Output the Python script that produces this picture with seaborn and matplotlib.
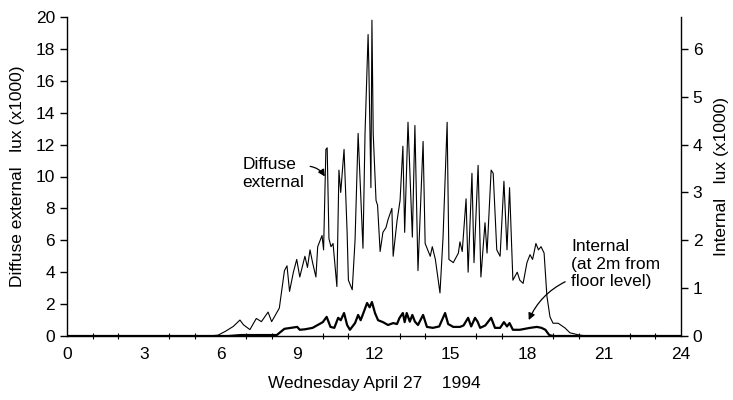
import matplotlib
matplotlib.use("Agg")
import matplotlib.pyplot as plt
import seaborn as sns
import pandas as pd

diffuse_hours = [0.0, 5.5, 5.9, 6.2, 6.5, 6.76, 6.9, 7.15, 7.4, 7.6, 7.86, 8.0, 8.3, 8.5, 8.6, 8.7,
                 8.85, 8.98, 9.1, 9.3, 9.4, 9.5, 9.6, 9.73, 9.8, 9.97, 10.03, 10.12, 10.17, 10.24,
                 10.32, 10.4, 10.55, 10.63, 10.7, 10.83, 10.95, 11.0, 11.15, 11.26, 11.38, 11.57,
                 11.65, 11.77, 11.8, 11.88, 11.92, 11.97, 12.08, 12.14, 12.24, 12.35, 12.47, 12.55,
                 12.7, 12.75, 12.9, 13.02, 13.13, 13.2, 13.33, 13.5, 13.6, 13.72, 13.92, 14.0, 14.1,
                 14.2, 14.28, 14.4, 14.58, 14.7, 14.86, 14.93, 15.1, 15.3, 15.36, 15.45, 15.6, 15.68,
                 15.83, 15.91, 16.07, 16.18, 16.34, 16.42, 16.58, 16.66, 16.8, 16.93, 17.08, 17.2,
                 17.3, 17.43, 17.6, 17.7, 17.83, 17.98, 18.1, 18.2, 18.33, 18.43, 18.53, 18.65,
                 18.76, 18.88, 19.0, 19.2, 19.47, 19.66, 20.05, 20.4, 24.0]
diffuse_values = [0, 0, 0.05, 0.3, 0.6, 1.0, 0.7, 0.4, 1.1, 0.9, 1.5, 0.9, 1.75, 4.1, 4.4, 2.8,
                  4.0, 4.8, 3.7, 5.0, 4.3, 5.4, 4.6, 3.7, 5.6, 6.3, 5.4, 11.7, 11.8, 6.1,
                  5.6, 5.8, 3.1, 10.4, 9.0, 11.7, 6.5, 3.5, 2.9, 6.0, 12.7, 5.5,
                  12.7, 18.9, 16.9, 9.3, 19.8, 12.7, 8.5, 8.2, 5.3, 6.5, 6.8, 7.3,
                  8.0, 5.0, 7.2, 8.5, 11.9, 6.5, 13.4, 6.2, 13.2, 4.1, 12.2, 5.8, 5.4,
                  5.0, 5.6, 4.8, 2.7, 6.2, 13.4, 4.8, 4.6, 5.2, 5.9, 5.3, 8.6, 4.0,
                  10.2, 4.6, 10.7, 3.7, 7.1, 5.2, 10.4, 10.2, 5.4, 5.0, 9.7, 5.4,
                  9.3, 3.5, 4.0, 3.5, 3.3, 4.6, 5.1, 4.8, 5.8, 5.4, 5.6, 5.2,
                  2.5, 1.2, 0.8, 0.8, 0.5, 0.2, 0.05, 0, 0]

internal_hours = [0.0, 6.3, 6.8, 7.4, 8.2, 8.5, 9.0, 9.1, 9.3, 9.6, 9.8, 10.0, 10.15, 10.3, 10.45,
                  10.6, 10.7, 10.83, 10.95, 11.06, 11.26, 11.38, 11.48, 11.6, 11.73, 11.83, 11.92,
                  12.04, 12.16, 12.35, 12.55, 12.75, 12.9, 13.0, 13.13, 13.2, 13.28, 13.4, 13.5,
                  13.6, 13.72, 13.92, 14.07, 14.3, 14.55, 14.78, 14.9, 15.1, 15.36, 15.5, 15.68,
                  15.8, 15.95, 16.05, 16.15, 16.35, 16.58, 16.73, 16.93, 17.08, 17.2, 17.3, 17.43,
                  17.7, 18.1, 18.37, 18.55, 18.7, 18.85, 19.0, 24.0]
internal_values = [0, 0, 0.02, 0.02, 0.02, 0.15, 0.19, 0.13, 0.14, 0.17, 0.23, 0.29, 0.4, 0.19, 0.17,
                   0.38, 0.33, 0.48, 0.23, 0.13, 0.27, 0.44, 0.33, 0.5, 0.69, 0.6, 0.71,
                   0.48, 0.33, 0.29, 0.23, 0.27, 0.25, 0.38, 0.48, 0.29, 0.48, 0.3, 0.44,
                   0.3, 0.23, 0.44, 0.19, 0.17, 0.2, 0.48, 0.25, 0.19, 0.19, 0.22, 0.38,
                   0.2, 0.38, 0.3, 0.17, 0.22, 0.38, 0.17, 0.17, 0.29, 0.2, 0.27, 0.13,
                   0.13, 0.17, 0.19, 0.17, 0.13, 0.02, 0, 0]

x_ticks = [0, 3, 6, 9, 12, 15, 18, 21, 24]
left_ticks = [0, 2, 4, 6, 8, 10, 12, 14, 16, 18, 20]
right_ticks = [0, 1, 2, 3, 4, 5, 6]

sns.set_theme(style="white")
plt.rcParams['font.family'] = ['Liberation Sans', 'DejaVu Sans']
plt.rcParams['text.color'] = 'black'
plt.rcParams['axes.labelcolor'] = 'black'
plt.rcParams['xtick.color'] = 'black'
plt.rcParams['ytick.color'] = 'black'

df_d = pd.DataFrame({"hour": diffuse_hours, "lux": diffuse_values})
df_i = pd.DataFrame({"hour": internal_hours, "lux": internal_values})

fig = plt.figure(figsize=(7.33, 4.0), dpi=100)
ax = fig.add_axes([0.0914, 0.16, 0.8376, 0.7975])
sns.lineplot(data=df_d, x="hour", y="lux", ax=ax, color="black", linewidth=0.8)
ax2 = ax.twinx()
sns.lineplot(data=df_i, x="hour", y="lux", ax=ax2, color="black", linewidth=1.6)

ax.set_xlim(0, 24)
ax.set_ylim(0, 20)
ax2.set_ylim(0, 20 / 3)
ax.set_xticks(x_ticks)
ax.set_xticks(range(0, 25), minor=True)
ax.set_yticks(left_ticks)
ax2.set_yticks(right_ticks)

for a in (ax, ax2):
    a.spines['top'].set_visible(False)
    for s in a.spines.values():
        s.set_color("black")
        s.set_linewidth(1.0)
ax.spines['right'].set_visible(False)
ax2.spines['left'].set_visible(False)
ax2.spines['bottom'].set_visible(False)

ax.tick_params(axis='x', which='major', direction='inout', length=8, width=1, labelsize=12.5, pad=4,
               colors='black', labelcolor='black')
ax.tick_params(axis='x', which='minor', direction='inout', length=5, width=0.8, bottom=True, colors='black')
ax.tick_params(axis='y', direction='out', length=5, width=1, labelsize=12.5, left=True,
               colors='black', labelcolor='black')
ax2.tick_params(axis='y', direction='out', length=5, width=1, labelsize=12.5, right=True,
                colors='black', labelcolor='black')

ax.set_xlabel("Wednesday April 27    1994", fontsize=12.5, labelpad=10, color='black')
ax.set_ylabel("Diffuse external   lux (x1000)", fontsize=12.5, labelpad=8, color='black')
ax2.set_ylabel("Internal   lux (x1000)", fontsize=12.5, labelpad=8, color='black')

ax.annotate("Diffuse\nexternal", xy=(10.08, 10.0), xytext=(6.85, 10.2), color='black',
            fontsize=12.5, ha='left', va='center', linespacing=1.2,
            arrowprops=dict(arrowstyle='-|>', color='black', lw=0.9,
                            connectionstyle='arc3,rad=-0.3', mutation_scale=10,
                            shrinkA=2, shrinkB=0, relpos=(1.0, 0.72)))
ax.annotate("Internal\n(at 2m from\nfloor level)", xy=(18.05, 1.0), xytext=(19.7, 4.5), color='black',
            fontsize=12.5, ha='left', va='center', linespacing=1.2,
            arrowprops=dict(arrowstyle='-|>', color='black', lw=0.9,
                            connectionstyle='arc3,rad=0.2', mutation_scale=10,
                            shrinkA=2, shrinkB=0, relpos=(0.0, 0.2)))

fig.savefig("out.png", dpi=100)
